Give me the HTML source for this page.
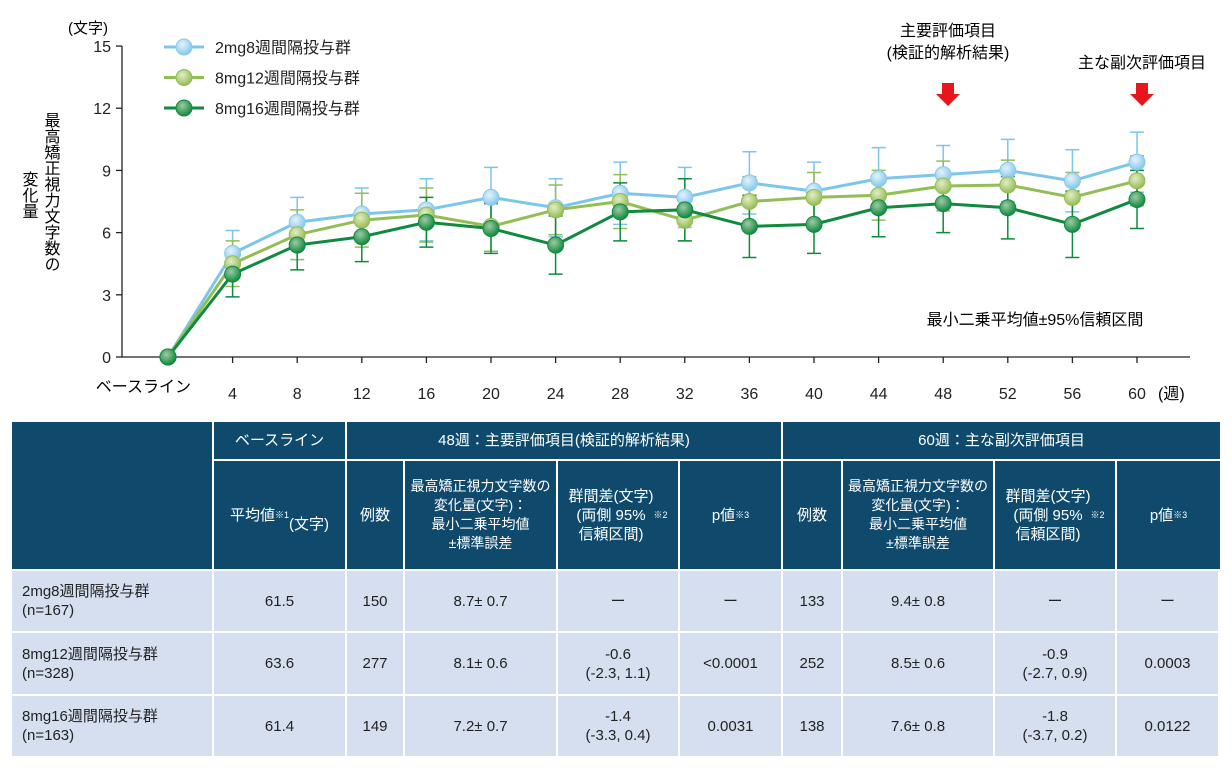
<!DOCTYPE html>
<html><head><meta charset="utf-8">
<style>
body{margin:0;width:1232px;height:775px;background:#fff;overflow:hidden;font-family:"Liberation Sans","Noto Sans CJK JP",sans-serif;color:#222;}
#wrap{position:relative;width:1232px;height:775px;}
svg text{font-family:"Liberation Sans","Noto Sans CJK JP",sans-serif;}
.c{position:absolute;display:flex;align-items:center;justify-content:center;text-align:center;font-size:15px;line-height:19px;box-sizing:border-box;}
.h{background:#0f4a6d;color:#fff;}
.d{background:#d5dff0;color:#222;}
.l{justify-content:flex-start;text-align:left;padding-left:10px;}
sup{font-size:9px;vertical-align:top;line-height:12px;}
</style></head><body><div id="wrap">
<svg id="chart" width="1232" height="420" style="position:absolute;left:0;top:0">
<defs>
<radialGradient id="gb" cx="40%" cy="35%" r="65%"><stop offset="0" stop-color="#e4f3fc"/><stop offset="1" stop-color="#84c8ec"/></radialGradient>
<radialGradient id="gl" cx="40%" cy="35%" r="65%"><stop offset="0" stop-color="#e2edc5"/><stop offset="1" stop-color="#95bd55"/></radialGradient>
<radialGradient id="gd" cx="40%" cy="35%" r="65%"><stop offset="0" stop-color="#9fcaa5"/><stop offset="1" stop-color="#108a3e"/></radialGradient>
</defs>
<g id="axes"></g><g id="series"></g>
<text x="68" y="33" font-size="15">(文字)</text>
<text x="191" y="392" font-size="16" text-anchor="end">ベースライン</text>
<text x="1158" y="399" font-size="16">(週)</text>
<text x="1035" y="325" font-size="16" text-anchor="middle">最小二乗平均値±95%信頼区間</text>
<text x="948" y="36" font-size="16" text-anchor="middle">主要評価項目</text>
<text x="948" y="58" font-size="16" text-anchor="middle">(検証的解析結果)</text>
<text x="1142" y="68" font-size="16" text-anchor="middle">主な副次評価項目</text>
<polygon points="942,83 954,83 954,94 960,94 948,106 936,94 942,94" fill="#e8161b"/>
<polygon points="1136,83 1148,83 1148,94 1154,94 1142,106 1130,94 1136,94" fill="#e8161b"/>
<g font-size="16">
<text x="50" y="112" style="writing-mode:vertical-rl">最高矯正視力文字数の</text>
<text x="28" y="171" style="writing-mode:vertical-rl">変化量</text>
</g>
</svg>
<script>
const categories=["ベースライン","4","8","12","16","20","24","28","32","36","40","44","48","52","56","60"];
const yTicks=[0,3,6,9,12,15];
const blueVals=[0,5.0,6.5,6.9,7.1,7.7,7.2,7.9,7.7,8.4,8.0,8.6,8.8,9.0,8.5,9.4];
const blueCI=[0,1.1,1.2,1.25,1.5,1.45,1.4,1.5,1.45,1.5,1.4,1.5,1.4,1.5,1.5,1.45];
const lightVals=[0,4.5,5.9,6.6,6.85,6.3,7.1,7.5,6.6,7.5,7.7,7.8,8.25,8.3,7.7,8.5];
const lightCI=[0,1.1,1.2,1.3,1.3,1.2,1.2,1.3,1.0,1.2,1.2,1.2,1.2,1.2,1.2,1.2];
const darkVals=[0,4.0,5.4,5.8,6.5,6.2,5.4,7.0,7.1,6.3,6.4,7.2,7.4,7.2,6.4,7.6];
const darkCI=[0,1.1,1.2,1.2,1.2,1.2,1.4,1.4,1.5,1.5,1.4,1.4,1.4,1.5,1.6,1.4];
const legendNames=["2mg8週間隔投与群","8mg12週間隔投与群","8mg16週間隔投与群"];
const NS="http://www.w3.org/2000/svg";
const X0=168,DX=64.6,Y0=357,YS=20.73;
const xs=i=>X0+i*DX, ys=v=>Y0-v*YS;
function mk(tag,attrs,parent){const e=document.createElementNS(NS,tag);for(const k in attrs)e.setAttribute(k,attrs[k]);parent.appendChild(e);return e;}
const ax=document.getElementById('axes');
let e=mk('line',{x1:122,y1:Y0,x2:1190,y2:Y0,stroke:'#222','stroke-width':1.3},ax);


e=mk('line',{x1:122,y1:46,x2:122,y2:Y0,stroke:'#222','stroke-width':1.3},ax);


yTicks.forEach(t=>{
 mk('line',{x1:116,y1:ys(t),x2:122,y2:ys(t),stroke:'#222','stroke-width':1.3},ax);
 const tx=mk('text',{x:111,y:ys(t)+6,'font-size':16,'text-anchor':'end',fill:'#222'},ax);tx.textContent=t;
 
 
});
categories.forEach((c,i)=>{
 mk('line',{x1:xs(i),y1:Y0,x2:xs(i),y2:Y0+6,stroke:'#222','stroke-width':1.3},ax);
 if(i>0){const tx=mk('text',{x:xs(i),y:399,'font-size':16,'text-anchor':'middle',fill:'#222'},ax);tx.textContent=c;
 
 }
});
const sg=document.getElementById('series');
const defs=[[blueVals,blueCI,'#7cc6ec','url(#gb)','#8cc9ea','blue'],[lightVals,lightCI,'#93bd55','url(#gl)','#93bd55','light-green'],[darkVals,darkCI,'#0f8a3e','url(#gd)','#0f8a3e','dark-green']];
defs.forEach(([v,ci,col,grad,ring,nm])=>{
 const g=mk('g',{},sg);
 
 
 v.forEach((val,i)=>{ if(i==0)return;
  const b=mk('path',{d:`M${xs(i)},${ys(val+ci[i])}V${ys(val-ci[i])}M${xs(i)-7},${ys(val+ci[i])}h14M${xs(i)-7},${ys(val-ci[i])}h14`,stroke:col,'stroke-width':1.5,fill:'none'},g);
  
  
 });
 const p=mk('polyline',{points:v.map((val,i)=>xs(i)+','+ys(val)).join(' '),stroke:col,'stroke-width':3,fill:'none'},g);
 
 
});
defs.forEach(([v,ci,col,grad,ring,nm])=>{
 v.forEach((val,i)=>{
  const c=mk('circle',{cx:xs(i),cy:ys(val),r:8,fill:grad,stroke:ring,'stroke-width':1},sg);
  
  
 });
});
const dg=mk('circle',{cx:xs(0),cy:ys(0),r:8,fill:'url(#gd)',stroke:'#0f8a3e','stroke-width':1},sg);


legendNames.forEach((n,k)=>{
 const y=47+k*30.5;const g=mk('g',{},sg);
 
 
 mk('line',{x1:164,y1:y,x2:204,y2:y,stroke:defs[k][2],'stroke-width':3},g);
 mk('circle',{cx:184,cy:y,r:8,fill:defs[k][3],stroke:defs[k][4],'stroke-width':1},g);
 const t=mk('text',{x:215,y:y+6,'font-size':16,fill:'#222'},g);t.textContent=n;
});
</script>
<div>
<div class="c h" style="left:12px;top:422px;width:200px;height:147px"></div>
<div class="c h" style="left:214px;top:422px;width:131px;height:37px">ベースライン</div>
<div class="c h" style="left:347px;top:422px;width:434px;height:37px">48週：主要評価項目(検証的解析結果)</div>
<div class="c h" style="left:783px;top:422px;width:437px;height:37px">60週：主な副次評価項目</div>
<div class="c h" style="left:214px;top:461px;width:131px;height:108px">平均値<sup>※1</sup><br>(文字)</div>
<div class="c h" style="left:347px;top:461px;width:56px;height:108px">例数</div>
<div class="c h" style="left:405px;top:461px;width:151px;height:108px;font-size:14px">最高矯正視力文字数の<br>変化量(文字)：<br>最小二乗平均値<br>±標準誤差</div>
<div class="c h" style="left:558px;top:461px;width:120px;height:108px">群間差(文字)<br>(両側 95%<br>信頼区間)<sup>※2</sup></div>
<div class="c h" style="left:680px;top:461px;width:101px;height:108px">p値<sup>※3</sup></div>
<div class="c h" style="left:783px;top:461px;width:58px;height:108px">例数</div>
<div class="c h" style="left:843px;top:461px;width:150px;height:108px;font-size:14px">最高矯正視力文字数の<br>変化量(文字)：<br>最小二乗平均値<br>±標準誤差</div>
<div class="c h" style="left:995px;top:461px;width:120px;height:108px">群間差(文字)<br>(両側 95%<br>信頼区間)<sup>※2</sup></div>
<div class="c h" style="left:1117px;top:461px;width:103px;height:108px">p値<sup>※3</sup></div>
</div>
<script>
const rows=[
 ["2mg8週間隔投与群<br>(n=167)","61.5","150","8.7± 0.7","ー","ー","133","9.4± 0.8","ー","ー"],
 ["8mg12週間隔投与群<br>(n=328)","63.6","277","8.1± 0.6","-0.6<br>(-2.3, 1.1)","&lt;0.0001","252","8.5± 0.6","-0.9<br>(-2.7, 0.9)","0.0003"],
 ["8mg16週間隔投与群<br>(n=163)","61.4","149","7.2± 0.7","-1.4<br>(-3.3, 0.4)","0.0031","138","7.6± 0.8","-1.8<br>(-3.7, 0.2)","0.0122"]];
const colX=[12,214,347,405,558,680,783,843,995,1117,1220];
const rowY=[571,633,696,758];
const wrap=document.getElementById('wrap');
rows.forEach((r,ri)=>{r.forEach((txt,ci)=>{
 const d=document.createElement('div');
 d.className='c d'+(ci==0?' l':'');
 d.style.left=colX[ci]+'px';d.style.top=rowY[ri]+'px';
 d.style.width=(colX[ci+1]-colX[ci]-2)+'px';d.style.height=(rowY[ri+1]-rowY[ri]-2)+'px';
 d.innerHTML=txt;
 
 
 wrap.appendChild(d);
});});
</script>
</div></body></html>
